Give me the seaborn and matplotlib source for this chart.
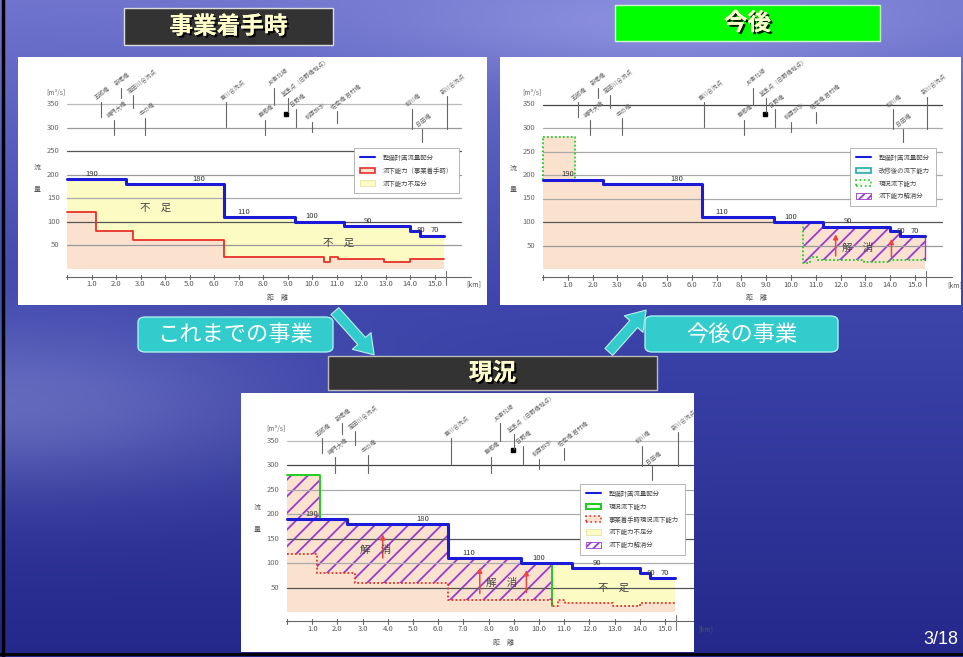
import numpy as np
import matplotlib.pyplot as plt
import seaborn as sns
from matplotlib.patches import Rectangle, FancyBboxPatch, FancyArrowPatch, Patch
from matplotlib.lines import Line2D
import matplotlib.patheffects as pe

sns.set_theme(style='white')
plt.rcParams['font.family'] = ['Noto Sans CJK JP', 'DejaVu Sans']
plt.rcParams['hatch.linewidth'] = 1.3

W, H = 963, 657

# flow data (distance km, discharge m3/s)
plan_km = [0, 2.4, 6.4, 9.3, 11.3, 14.0, 14.4]
plan_q = [190, 180, 110, 100, 90, 80, 70]
start_km = [0, 1.2, 2.7, 6.4, 10.5, 10.75, 11.05, 12.95, 14.0]
start_q = [120, 80, 60, 25, 13, 25, 20, 14, 20]
now_km = [0, 1.3, 2.4, 6.4, 9.3, 10.5, 10.75, 11.05, 12.95, 14.0]
now_q = [280, 190, 180, 110, 100, 13, 25, 20, 14, 20]
future_km = [0, 1.3, 2.4, 6.4, 9.3, 11.3, 14.0, 14.4]
future_q = [280, 190, 180, 110, 100, 90, 80, 70]
km_end = 15.4

seg_text = ['190', '180', '110', '100', '90', '80', '70']
seg_km = [1.0, 5.4, 7.2, 10.0, 12.3, 14.45, 15.0]

grid_q = [350, 300, 250, 200, 150, 100, 50]
km_ticks = list(range(1, 16))

bridge_km = [1.4, 1.9, 2.2, 2.7, 3.2, 6.5, 8.1, 8.45, 9.0, 9.35, 10.0, 11.0, 14.1, 14.5, 15.5]
bridge_top = [355, 317, 385, 370, 321, 355, 317, 385, 363, 340, 313, 335, 340, 298, 367]
bridge_bot = [324, 285, 363, 342, 285, 302, 285, 349, 334, 302, 292, 310, 298, 270, 298]
bridge_names = ['五郎橋', '鳴門大橋', '新堀橋', '高田川合流点', '中の橋', '東川合流点', '東郷橋',
                'JR東北線', '基準点（日野橋地点）', '日野橋', '柳原排水', '佐幸橋 岩村橋',
                '柳川橋', '日田橋', '新川合流点']

right_arrow_km = [11.8, 14.05]
right_arrow_from = [22, 20]
right_arrow_to = [80, 70]
now_arrow_km = [3.8, 7.65, 9.5]
now_arrow_from = [105, 33, 35]
now_arrow_to = [165, 97, 92]

BLUE = '#1a1ad8'
RED = '#e8302a'
PEACH = '#fbe2cf'
YELLOW = '#fdfbc4'
PURPLE = '#9a3ad0'
GREEN = '#22cc22'


def step_vals(edges, vals, x):
    idx = np.searchsorted(edges, x, side='right') - 1
    return np.asarray(vals, float)[idx]


xs = np.array(sorted(set(plan_km + start_km + now_km + future_km + [km_end])))
plan = step_vals(plan_km, plan_q, xs)
start = step_vals(start_km, start_q, xs)
now = step_vals(now_km, now_q, xs)
future = step_vals(future_km, future_q, xs)

fig = plt.figure(figsize=(9.63, 6.57), dpi=100)

# slide background
bg = fig.add_axes([0, 0, 1, 1], zorder=-10)
yy, xx = np.mgrid[0:1:220j, 0:1:320j]
top = np.array([112, 116, 205.0])
mid = np.array([62, 70, 172.0])
bot = np.array([36, 40, 138.0])
t1 = np.clip(yy / 0.45, 0, 1)[..., None]
t2 = np.clip((yy - 0.45) / 0.55, 0, 1)[..., None]
img = np.where(yy[..., None] < 0.45, top * (1 - t1) + mid * t1, mid * (1 - t2) + bot * t2)
glow = 45 * np.exp(-((yy - 0.62) / 0.13) ** 2) * np.exp(-(xx / 0.3) ** 2)
cloud = 30 * np.exp(-((yy - 0.04) / 0.08) ** 2) * np.exp(-((xx - 0.7) / 0.3) ** 2)
img = img + (glow + cloud)[..., None] * np.array([1, 1, 0.6])
bg.imshow(np.clip(img, 0, 255) / 255, aspect='auto', extent=[0, 1, 0, 1], interpolation='bilinear')
bg.axis('off')
fig.add_artist(Line2D([3 / W, 3 / W], [0, 1], color='black', lw=2.5, transform=fig.transFigure))
fig.add_artist(Line2D([0, 1], [1 - 654 / H, 1 - 654 / H], color='black', lw=2, transform=fig.transFigure))


def fig_frac(px, py):
    return px / W, 1 - py / H


def make_panel(box, x0, pxkm, y0, pxq):
    l, t, r, b = box
    ax = fig.add_axes([l / W, 1 - b / H, (r - l) / W, (b - t) / H])
    ax.set_xlim((l - x0) / pxkm, (r - x0) / pxkm)
    ax.set_ylim((y0 - b) / pxq, (y0 - t) / pxq)
    ax.set_facecolor('white')
    ax.set_xticks([])
    ax.set_yticks([])
    for s in ax.spines.values():
        s.set_visible(False)
    return ax


def decorate(ax, grid_colors):
    for q, c in zip(grid_q, grid_colors):
        ax.plot([0, 16.1], [q, q], color=c, lw=0.9, zorder=3)
        ax.text(-0.3, q, str(q), ha='right', va='center', fontsize=5.5, color='#666666')
    ax.text(-0.45, 374, '[m³/s]', ha='center', va='center', fontsize=4.8, color='#666666')
    ax.text(-1.2, 214, '流', ha='center', va='center', fontsize=5, color='#555555')
    ax.text(-1.2, 168, '量', ha='center', va='center', fontsize=5, color='#555555')
    # distance axis
    ax.plot([-0.05, 16.5], [-18, -18], color='#666666', lw=0.8)
    for k in [0] + km_ticks:
        ax.plot([k, k], [-23, -13], color='#666666', lw=0.8)
        if k > 0:
            ax.text(k, -34, f'{k}.0', ha='center', va='center', fontsize=5.5, color='#555555')
    ax.plot([15.45, 15.45], [-36, -5], color='#777777', lw=0.8)
    ax.text(16.6, -34, '[km]', ha='center', va='center', fontsize=5, color='#555555')
    ax.text(8.6, -62, '距　離', ha='center', va='center', fontsize=5, color='#555555')
    # bridges and junctions
    for k, q1, q2, name in zip(bridge_km, bridge_top, bridge_bot, bridge_names):
        ax.plot([k, k], [q2, q1], color='#666666', lw=0.8, zorder=3)
        ax.text(k - 0.15, q1 + 2, name, rotation=38, rotation_mode='anchor', ha='left', va='bottom',
                fontsize=4.2, color='#666666')
    ax.plot([8.95], [330], marker='s', color='black', ms=3.5)
    # planned discharge
    sns.lineplot(x=xs, y=plan, ax=ax, color=BLUE, lw=2.2, drawstyle='steps-post',
                 estimator=None, zorder=6)
    for txt, k in zip(seg_text, seg_km):
        q = step_vals(plan_km, plan_q, [k])[0]
        ax.text(k, q + 3, txt, ha='center', va='bottom', fontsize=5.5, color='#333333', zorder=7)


def add_legend(ax, handles, px, py):
    leg = ax.legend(handles=handles, loc='upper left', bbox_to_anchor=fig_frac(px, py),
                    bbox_transform=fig.transFigure, fontsize=4.6, frameon=True, fancybox=False,
                    edgecolor='#aaaaaa', framealpha=1, handlelength=2.4, handleheight=1.0,
                    labelspacing=0.75, borderpad=0.9, handletextpad=1.2)
    leg.get_frame().set_linewidth(0.6)
    for t in leg.get_texts():
        t.set_color('#444444')
    leg.set_zorder(8)


plan_handle = Line2D([], [], color=BLUE, lw=1.5, label='整備計画流量配分')
hatch_handle = Patch(facecolor='white', edgecolor=PURPLE, hatch='////', lw=0.6, label='流下能力解消分')
short_handle = Patch(facecolor=YELLOW, edgecolor='#e0e0a0', lw=0.5, label='流下能力不足分')

# ---- 事業着手時 ----
ax1 = make_panel((18, 57, 487, 305), 67, 24.5, 268.5, 0.469)
ax1.fill_between(xs, 0, start, step='post', color=PEACH, lw=0, zorder=1)
ax1.fill_between(xs, start, plan, step='post', color=YELLOW, lw=0, zorder=1)
ax1.plot(xs, start, drawstyle='steps-post', color=RED, lw=1.3, zorder=5)
decorate(ax1, ['#bbbbbb', '#999999', '#555555', '#999999', '#aaaaaa', '#555555', '#999999'])
ax1.text(3.6, 130, '不　足', ha='center', va='center', fontsize=7.5, color='#444444', zorder=7)
ax1.text(11.1, 55, '不　足', ha='center', va='center', fontsize=7.5, color='#444444', zorder=7)
add_legend(ax1, [plan_handle,
                 Patch(facecolor=PEACH, edgecolor=RED, lw=1.2, label='流下能力（事業着手時）'),
                 short_handle], 351, 145)

# ---- 今後 ----
ax2 = make_panel((500, 57, 961, 305), 543, 24.8, 269, 0.470)
ax2.fill_between(xs, 0, now, step='post', color=PEACH, lw=0, zorder=1)
ax2.fill_between(xs, now, np.maximum(future, now), step='post', facecolor=PEACH,
                 hatch='//', edgecolor=PURPLE, lw=0, zorder=2)
ax2.plot([km_end, km_end], [now[-1], future[-1]], color=PURPLE, lw=1, zorder=4)
ax2.plot(xs, now, drawstyle='steps-post', color=GREEN, lw=1.3, ls=(0, (1, 1.2)), zorder=5)
ax2.plot([0, 0], [plan[0], now[0]], color=GREEN, lw=1.3, ls=(0, (1, 1.2)), zorder=5)
decorate(ax2, ['#444444', '#aaaaaa', '#aaaaaa', '#aaaaaa', '#aaaaaa', '#555555', '#999999'])
for k, q1, q2 in zip(right_arrow_km, right_arrow_from, right_arrow_to):
    ax2.annotate('', xy=(k, q2), xytext=(k, q1), zorder=7,
                 arrowprops=dict(arrowstyle='-|>', color='#ee4444', lw=1.1, mutation_scale=7))
ax2.text(12.7, 45, '解　消', ha='center', va='center', fontsize=7.5, color='#444444', zorder=7)
add_legend(ax2, [plan_handle,
                 Patch(facecolor='#eaf8f0', edgecolor='#22aaaa', lw=1.2, label='改修後の流下能力'),
                 Patch(facecolor='#f2fff0', edgecolor=GREEN, lw=1.2, ls=':', label='現況流下能力'),
                 hatch_handle], 847, 145)

# ---- 現況 ----
ax3 = make_panel((241, 393, 694, 652), 287, 25.2, 612.5, 0.491)
lower = np.minimum(start, now)
ax3.fill_between(xs, 0, lower, step='post', color=PEACH, lw=0, zorder=1)
ax3.fill_between(xs, lower, now, step='post', facecolor=PEACH,
                 hatch='//', edgecolor=PURPLE, lw=0, zorder=2)
ax3.fill_between(xs, now, np.maximum(plan, now), step='post', color=YELLOW, lw=0, zorder=1)
mask = xs <= 10.5
ax3.plot(xs[mask], now[mask], drawstyle='steps-post', color=GREEN, lw=1.4, zorder=5)
ax3.plot(xs, start, drawstyle='steps-post', color=RED, lw=1.3, ls=(0, (1, 1.2)), zorder=5)
decorate(ax3, ['#bbbbbb', '#444444', '#aaaaaa', '#aaaaaa', '#555555', '#aaaaaa', '#555555'])
for k, q1, q2 in zip(now_arrow_km, now_arrow_from, now_arrow_to):
    ax3.annotate('', xy=(k, q2), xytext=(k, q1), zorder=7,
                 arrowprops=dict(arrowstyle='-|>', color='#ee4444', lw=1.1, mutation_scale=7))
ax3.text(3.5, 128, '解　消', ha='center', va='center', fontsize=7.5, color='#444444', zorder=7)
ax3.text(8.5, 60, '解　消', ha='center', va='center', fontsize=7.5, color='#444444', zorder=7)
ax3.text(12.95, 50, '不　足', ha='center', va='center', fontsize=7.5, color='#444444', zorder=7)
add_legend(ax3, [plan_handle,
                 Patch(facecolor='#f2fff0', edgecolor=GREEN, lw=1.5, label='現況流下能力'),
                 Patch(facecolor=PEACH, edgecolor=RED, lw=1.2, ls=':', label='事業着手時現況流下能力'),
                 short_handle, hatch_handle], 577, 481)

# ---- slide boxes and arrows ----
shadow = [pe.withSimplePatchShadow(offset=(1.5, -1.5), shadow_rgbFace='black', alpha=0.9), pe.Normal()]


def title_box(l, t, r, b, face, edge, text):
    x, y = fig_frac(l, b)
    fig.add_artist(Rectangle((x, y), (r - l) / W, (b - t) / H, facecolor=face, edgecolor=edge,
                             lw=1, transform=fig.transFigure, zorder=5))
    fig.text((l + r) / 2 / W, 1 - (t + b) / 2 / H, text, ha='center', va='center', fontsize=17,
             fontweight='bold', color='#ffffcc', path_effects=shadow, zorder=6)


def round_box(l, t, r, b, text):
    x, y = fig_frac(l, b)
    fig.add_artist(FancyBboxPatch((x, y), (r - l) / W, (b - t) / H,
                                  boxstyle='round,pad=0,rounding_size=0.008', facecolor='#33cccc',
                                  edgecolor='#aaeeee', lw=1, transform=fig.transFigure, zorder=5))
    fig.text((l + r) / 2 / W, 1 - (t + b) / 2 / H, text, ha='center', va='center', fontsize=16,
             color='white', zorder=6)


for a, b in [((333, 309), (376, 357)), ((607, 354), (648, 308))]:
    fig.add_artist(FancyArrowPatch(fig_frac(*a), fig_frac(*b), transform=fig.transFigure,
                                   arrowstyle='simple,head_length=0.9,head_width=1.2,tail_width=0.5',
                                   mutation_scale=15, facecolor='#33cccc', edgecolor='#bbeeee',
                                   lw=0.8, zorder=4))

title_box(124, 8, 333, 45, '#333333', '#dddddd', '事業着手時')
title_box(615, 5, 880, 41, '#00ff00', '#ccffcc', '今後')
title_box(328, 356, 657, 390, '#333333', '#bbbbbb', '現況')
round_box(138, 317, 333, 352, 'これまでの事業')
round_box(645, 316, 838, 352, '今後の事業')
fig.text(958 / W, 1 - 640 / H, '3/18', ha='right', va='center', fontsize=13, color='white',
         family='Liberation Sans')

fig.savefig('out.png', dpi=100)
